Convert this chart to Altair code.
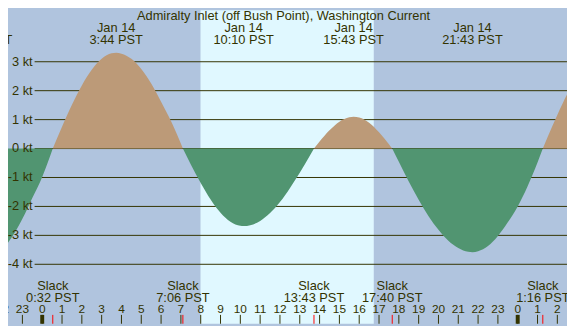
import altair as alt
import pandas as pd

# ---- data (hours after 00:00 Jan 14, speed in knots) ----
ebb0_t = [-2.5, -2.0, -1.5, -1.0, -0.5, 0.0, 0.533]
ebb0_v = [-3.77, -3.48, -3.03, -2.43, -1.71, -0.98, 0.0]

flood1_t = [0.533, 1.0, 1.5, 2.0, 2.5, 3.0, 3.5, 3.733, 4.0, 4.5, 5.0, 5.5, 6.0, 6.5, 7.1]
flood1_v = [0.0, 0.75, 1.51, 2.18, 2.72, 3.10, 3.29, 3.31, 3.28, 3.10, 2.75, 2.25, 1.62, 0.95, 0.0]

ebb1_t = [7.1, 7.5, 8.0, 8.5, 9.0, 9.5, 10.0, 10.167, 10.5, 11.0, 11.5, 12.0, 12.5, 13.0, 13.5, 13.717]
ebb1_v = [0.0, -0.55, -1.19, -1.76, -2.22, -2.53, -2.67, -2.68, -2.65, -2.50, -2.23, -1.85, -1.37, -0.84, -0.26, 0.0]

flood2_t = [13.717, 14.0, 14.5, 15.0, 15.5, 15.717, 16.0, 16.5, 17.0, 17.5, 17.667]
flood2_v = [0.0, 0.24, 0.63, 0.93, 1.08, 1.10, 1.07, 0.89, 0.56, 0.15, 0.0]

ebb2_t = [17.667, 18.0, 18.5, 19.0, 19.5, 20.0, 20.5, 21.0, 21.5, 21.717, 22.0, 22.5, 23.0,
          23.5, 24.0, 24.5, 25.0, 25.267]
ebb2_v = [0.0, -0.46, -1.14, -1.77, -2.34, -2.81, -3.19, -3.44, -3.57, -3.58, -3.55, -3.37, -3.02,
          -2.55, -2.0, -1.3, -0.48, 0.0]

flood3_t = [25.267, 25.5, 26.0, 26.5, 27.0]
flood3_v = [0.0, 0.38, 1.16, 1.88, 2.48]

# max / min current events (top labels)
event_t = [-3.03, 3.733, 10.167, 15.717, 21.717]
event_date = ["Jan 13", "Jan 14", "Jan 14", "Jan 14", "Jan 14"]
event_time = ["20:58 PST", "3:44 PST", "10:10 PST", "15:43 PST", "21:43 PST"]

# slack events (bottom labels)
slack_t = [0.533, 7.1, 13.717, 17.667, 25.267]
slack_time = ["0:32 PST", "7:06 PST", "13:43 PST", "17:40 PST", "1:16 PST"]

# daylight
day_start = [7.99]
day_end = [16.735]

# y axis levels
kt_levels = [3, 2, 1, 0, -1, -2, -3, -4]
kt_labels = ["3 kt", "2 kt", "1 kt", "0 kt", "-1 kt", "-2 kt", "-3 kt", "-4 kt"]

# hour ticks
hour_t = [-2, -1, 0, 1, 2, 3, 4, 5, 6, 7, 8, 9, 10, 11, 12, 13, 14, 15, 16, 17, 18, 19, 20,
          21, 22, 23, 24, 25, 26]
hour_labels = ["22", "23", "0", "1", "2", "3", "4", "5", "6", "7", "8", "9", "10", "11", "12",
               "13", "14", "15", "16", "17", "18", "19", "20", "21", "22", "23", "0", "1", "2"]
midnight_t = [0, 24]

title_text = "Admiralty Inlet (off Bush Point), Washington Current"

# ---- build tables ----
segments = [
    ("ebb0", "ebb", ebb0_t, ebb0_v),
    ("flood1", "flood", flood1_t, flood1_v),
    ("ebb1", "ebb", ebb1_t, ebb1_v),
    ("flood2", "flood", flood2_t, flood2_v),
    ("ebb2", "ebb", ebb2_t, ebb2_v),
    ("flood3", "flood", flood3_t, flood3_v),
]
rows = []
for seg, kind, ts, vs in segments:
    for t, v in zip(ts, vs):
        rows.append({"seg": seg, "kind": kind, "t": t, "v": v})
curve = pd.DataFrame(rows)

# chart sits 8px inside the page, so it covers the window from (8,8) to (575,326)
W, H = 567, 318
TXT = "#333300"
FONT = "Liberation Sans"

xs = alt.Scale(domain=[-1.727, 26.488], nice=False, zero=False)
ys = alt.Scale(domain=[-6.055, 4.78], nice=False, zero=False)

band = alt.Chart(pd.DataFrame({"s": day_start, "e": day_end})).mark_rect(color="#e0f8ff").encode(
    x=alt.X("s:Q", scale=xs, axis=None), x2="e:Q", y=alt.value(0), y2=alt.value(H)
)

kt_df = pd.DataFrame({"kt": kt_levels, "label": kt_labels})
grid = alt.Chart(kt_df).mark_rule(color=TXT, strokeWidth=1).encode(
    y=alt.Y("kt:Q", scale=ys, axis=None), x=alt.value(27), x2=alt.value(W)
)
kt_text = alt.Chart(kt_df).mark_text(
    align="right", baseline="middle", font=FONT, fontSize=13, color=TXT
).encode(y=alt.Y("kt:Q", scale=ys, axis=None), x=alt.value(25), text="label:N")

areas = alt.Chart(curve).mark_area(interpolate="monotone", clip=True).encode(
    x=alt.X("t:Q", scale=xs, axis=None),
    y=alt.Y("v:Q", scale=ys, axis=None, stack=None),
    y2=alt.datum(0),
    color=alt.Color("kind:N", scale=alt.Scale(domain=["flood", "ebb"], range=["#bc9a78", "#519571"]), legend=None),
    detail="seg:N",
)

hour_df = pd.DataFrame({"t": hour_t, "label": hour_labels})
hticks = alt.Chart(hour_df).mark_rule(color=TXT, strokeWidth=1).encode(
    x=alt.X("t:Q", scale=xs, axis=None), y=alt.value(309), y2=alt.value(H)
)
mticks = alt.Chart(pd.DataFrame({"t": midnight_t})).mark_rule(color=TXT, strokeWidth=4).encode(
    x=alt.X("t:Q", scale=xs, axis=None), y=alt.value(309), y2=alt.value(H)
)
htext = alt.Chart(hour_df).mark_text(baseline="middle", font=FONT, fontSize=12, color=TXT).encode(
    x=alt.X("t:Q", scale=xs, axis=None), y=alt.value(303), text="label:N"
)

slack_df = pd.DataFrame({"t": slack_t, "time": slack_time, "word": ["Slack"] * len(slack_t)})
sticks = alt.Chart(slack_df).mark_rule(color="#ff0000", strokeWidth=1).encode(
    x=alt.X("t:Q", scale=xs, axis=None), y=alt.value(309), y2=alt.value(H)
)
sword = alt.Chart(slack_df).mark_text(baseline="middle", font=FONT, fontSize=13, color=TXT).encode(
    x=alt.X("t:Q", scale=xs, axis=None), y=alt.value(279.5), text="word:N"
)
stime = alt.Chart(slack_df).mark_text(baseline="middle", font=FONT, fontSize=13, color=TXT).encode(
    x=alt.X("t:Q", scale=xs, axis=None), y=alt.value(291.5), text="time:N"
)

ev_df = pd.DataFrame({"t": event_t, "date": event_date, "time": event_time})
edate = alt.Chart(ev_df).mark_text(baseline="alphabetic", font=FONT, fontSize=13, color=TXT).encode(
    x=alt.X("t:Q", scale=xs, axis=None), y=alt.value(22), text="date:N"
)
etime = alt.Chart(ev_df).mark_text(baseline="alphabetic", font=FONT, fontSize=13, color=TXT).encode(
    x=alt.X("t:Q", scale=xs, axis=None), y=alt.value(34), text="time:N"
)

title = alt.Chart(pd.DataFrame({"title": [title_text]})).mark_text(
    baseline="alphabetic", font=FONT, fontSize=13, color=TXT
).encode(x=alt.value(279.5), y=alt.value(10), text="title:N")

chart = alt.layer(
    band, grid, areas, kt_text, hticks, mticks, sticks, htext, sword, stime, edate, etime, title
).properties(
    width=W, height=H, autosize="none", padding=0, background="#b0c4de"
).configure_view(strokeWidth=0)

chart.save("out.html", embed_options={"renderer": "svg", "actions": False})
